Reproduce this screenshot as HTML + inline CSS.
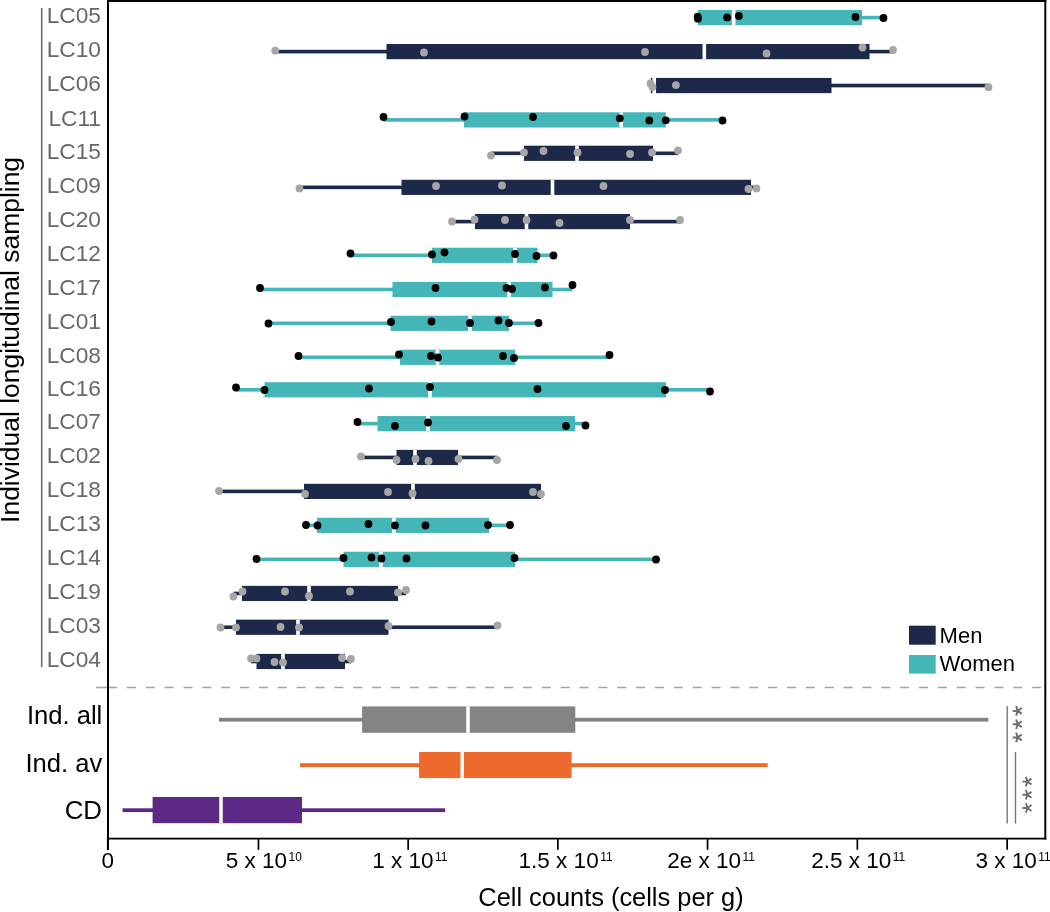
<!DOCTYPE html>
<html><head><meta charset="utf-8"><style>
html,body{margin:0;padding:0;background:#fff;}
svg{display:block;will-change:transform;}
text{font-family:"Liberation Sans",sans-serif;}
</style></head><body>
<svg width="1050" height="912" viewBox="0 0 1050 912">
<rect width="1050" height="912" fill="#fff"/>

<rect x="698" y="15.8" width="185.5" height="3.6" fill="#44b6b8"/>
<rect x="698" y="10" width="164" height="15.2" fill="#44b6b8"/>
<rect x="731.9" y="10" width="3.6" height="15.2" fill="#fff"/>
<circle cx="697.7" cy="16.6" r="3.9" fill="#000"/>
<circle cx="697.9" cy="18.7" r="3.9" fill="#000"/>
<circle cx="727.1" cy="17.4" r="3.9" fill="#000"/>
<circle cx="738.9" cy="16" r="3.9" fill="#000"/>
<circle cx="855.5" cy="17" r="3.9" fill="#000"/>
<circle cx="883.5" cy="18" r="3.9" fill="#000"/>
<text x="101" y="23.3" font-size="22.7" fill="#686868" text-anchor="end">LC05</text>
<rect x="275.2" y="49.8" width="617.8" height="3.6" fill="#1d2948"/>
<rect x="386.5" y="44" width="483" height="15.2" fill="#1d2948"/>
<rect x="702.5" y="44" width="3.6" height="15.2" fill="#fff"/>
<circle cx="275.2" cy="50.7" r="3.9" fill="#a6a6a6"/>
<circle cx="424" cy="52.5" r="3.9" fill="#a6a6a6"/>
<circle cx="645" cy="52" r="3.9" fill="#a6a6a6"/>
<circle cx="766.5" cy="53.5" r="3.9" fill="#a6a6a6"/>
<circle cx="862.5" cy="47.5" r="3.9" fill="#a6a6a6"/>
<circle cx="893" cy="50" r="3.9" fill="#a6a6a6"/>
<text x="101" y="57.3" font-size="22.7" fill="#686868" text-anchor="end">LC10</text>
<rect x="656" y="83.75" width="332.5" height="3.6" fill="#1d2948"/>
<rect x="656" y="77.95" width="175.5" height="15.2" fill="#1d2948"/>
<rect x="650.8" y="77.95" width="1.6" height="15.2" fill="#1d2948"/>
<circle cx="650.5" cy="83.5" r="3.9" fill="#a6a6a6"/>
<circle cx="652.5" cy="87" r="3.9" fill="#a6a6a6"/>
<circle cx="675.9" cy="85.1" r="3.9" fill="#a6a6a6"/>
<circle cx="988.5" cy="87.2" r="3.9" fill="#a6a6a6"/>
<text x="101" y="91.25" font-size="22.7" fill="#686868" text-anchor="end">LC06</text>
<rect x="383.5" y="118.1" width="339" height="3.6" fill="#44b6b8"/>
<rect x="464" y="112.3" width="201.8" height="15.2" fill="#44b6b8"/>
<rect x="619.4" y="112.3" width="3.6" height="15.2" fill="#fff"/>
<circle cx="383.5" cy="117" r="3.9" fill="#000"/>
<circle cx="464.5" cy="116.5" r="3.9" fill="#000"/>
<circle cx="533" cy="117" r="3.9" fill="#000"/>
<circle cx="619.8" cy="118.3" r="3.9" fill="#000"/>
<circle cx="649.3" cy="120.4" r="3.9" fill="#000"/>
<circle cx="665.7" cy="120.3" r="3.9" fill="#000"/>
<circle cx="722.5" cy="120.5" r="3.9" fill="#000"/>
<text x="101" y="125.6" font-size="22.7" fill="#686868" text-anchor="end">LC11</text>
<rect x="491" y="151.5" width="187" height="3.6" fill="#1d2948"/>
<rect x="524" y="145.7" width="129" height="15.2" fill="#1d2948"/>
<rect x="575.2" y="145.7" width="3.6" height="15.2" fill="#fff"/>
<circle cx="491" cy="155.5" r="3.9" fill="#a6a6a6"/>
<circle cx="524" cy="152.5" r="3.9" fill="#a6a6a6"/>
<circle cx="543.5" cy="151" r="3.9" fill="#a6a6a6"/>
<circle cx="577.5" cy="152.5" r="3.9" fill="#a6a6a6"/>
<circle cx="630" cy="154" r="3.9" fill="#a6a6a6"/>
<circle cx="652" cy="152.5" r="3.9" fill="#a6a6a6"/>
<circle cx="678" cy="150.5" r="3.9" fill="#a6a6a6"/>
<text x="101" y="159" font-size="22.7" fill="#686868" text-anchor="end">LC15</text>
<rect x="299.5" y="185.55" width="457" height="3.6" fill="#1d2948"/>
<rect x="401.5" y="179.75" width="349.5" height="15.2" fill="#1d2948"/>
<rect x="550.7" y="179.75" width="3.6" height="15.2" fill="#fff"/>
<circle cx="299.5" cy="188.5" r="3.9" fill="#a6a6a6"/>
<circle cx="436" cy="186" r="3.9" fill="#a6a6a6"/>
<circle cx="502" cy="185.5" r="3.9" fill="#a6a6a6"/>
<circle cx="603.5" cy="186" r="3.9" fill="#a6a6a6"/>
<circle cx="748.5" cy="189" r="3.9" fill="#a6a6a6"/>
<circle cx="756.5" cy="188.5" r="3.9" fill="#a6a6a6"/>
<text x="101" y="193.05" font-size="22.7" fill="#686868" text-anchor="end">LC09</text>
<rect x="452" y="219.8" width="228" height="3.6" fill="#1d2948"/>
<rect x="475" y="214" width="155" height="15.2" fill="#1d2948"/>
<rect x="524.7" y="214" width="3.6" height="15.2" fill="#fff"/>
<circle cx="452" cy="221.5" r="3.9" fill="#a6a6a6"/>
<circle cx="474.5" cy="219.5" r="3.9" fill="#a6a6a6"/>
<circle cx="505" cy="220" r="3.9" fill="#a6a6a6"/>
<circle cx="526.5" cy="220" r="3.9" fill="#a6a6a6"/>
<circle cx="559.5" cy="223" r="3.9" fill="#a6a6a6"/>
<circle cx="630" cy="220" r="3.9" fill="#a6a6a6"/>
<circle cx="680" cy="220" r="3.9" fill="#a6a6a6"/>
<text x="101" y="227.3" font-size="22.7" fill="#686868" text-anchor="end">LC20</text>
<rect x="350.5" y="253.5" width="203" height="3.6" fill="#44b6b8"/>
<rect x="432" y="247.7" width="105.5" height="15.2" fill="#44b6b8"/>
<rect x="513.2" y="247.7" width="3.6" height="15.2" fill="#fff"/>
<circle cx="350.5" cy="253.5" r="3.9" fill="#000"/>
<circle cx="432" cy="254.5" r="3.9" fill="#000"/>
<circle cx="444.5" cy="252.5" r="3.9" fill="#000"/>
<circle cx="515" cy="254" r="3.9" fill="#000"/>
<circle cx="536.5" cy="256" r="3.9" fill="#000"/>
<circle cx="553.5" cy="255.5" r="3.9" fill="#000"/>
<text x="101" y="261" font-size="22.7" fill="#686868" text-anchor="end">LC12</text>
<rect x="260" y="287.7" width="312.5" height="3.6" fill="#44b6b8"/>
<rect x="392.5" y="281.9" width="160" height="15.2" fill="#44b6b8"/>
<rect x="507.2" y="281.9" width="3.6" height="15.2" fill="#fff"/>
<circle cx="260" cy="288" r="3.9" fill="#000"/>
<circle cx="435.5" cy="288" r="3.9" fill="#000"/>
<circle cx="506.5" cy="288" r="3.9" fill="#000"/>
<circle cx="512" cy="289" r="3.9" fill="#000"/>
<circle cx="545" cy="287.5" r="3.9" fill="#000"/>
<circle cx="572.5" cy="285" r="3.9" fill="#000"/>
<text x="101" y="295.2" font-size="22.7" fill="#686868" text-anchor="end">LC17</text>
<rect x="268.5" y="321.5" width="270" height="3.6" fill="#44b6b8"/>
<rect x="390.5" y="315.7" width="118.5" height="15.2" fill="#44b6b8"/>
<rect x="468.2" y="315.7" width="3.6" height="15.2" fill="#fff"/>
<circle cx="268.5" cy="323.5" r="3.9" fill="#000"/>
<circle cx="391" cy="322" r="3.9" fill="#000"/>
<circle cx="431.5" cy="321.5" r="3.9" fill="#000"/>
<circle cx="470" cy="323" r="3.9" fill="#000"/>
<circle cx="498.5" cy="320.5" r="3.9" fill="#000"/>
<circle cx="509" cy="323" r="3.9" fill="#000"/>
<circle cx="538.5" cy="323" r="3.9" fill="#000"/>
<text x="101" y="329" font-size="22.7" fill="#686868" text-anchor="end">LC01</text>
<rect x="298.5" y="355.5" width="311" height="3.6" fill="#44b6b8"/>
<rect x="400" y="349.7" width="115" height="15.2" fill="#44b6b8"/>
<rect x="435.7" y="349.7" width="3.6" height="15.2" fill="#fff"/>
<circle cx="298.5" cy="356" r="3.9" fill="#000"/>
<circle cx="399" cy="354.5" r="3.9" fill="#000"/>
<circle cx="431" cy="356" r="3.9" fill="#000"/>
<circle cx="438" cy="357.5" r="3.9" fill="#000"/>
<circle cx="503" cy="356" r="3.9" fill="#000"/>
<circle cx="514" cy="358" r="3.9" fill="#000"/>
<circle cx="609.5" cy="355" r="3.9" fill="#000"/>
<text x="101" y="363" font-size="22.7" fill="#686868" text-anchor="end">LC08</text>
<rect x="236" y="388" width="474" height="3.6" fill="#44b6b8"/>
<rect x="264.5" y="382.2" width="401.5" height="15.2" fill="#44b6b8"/>
<rect x="428.2" y="382.2" width="3.6" height="15.2" fill="#fff"/>
<circle cx="236" cy="387.5" r="3.9" fill="#000"/>
<circle cx="264.5" cy="390" r="3.9" fill="#000"/>
<circle cx="369" cy="388.5" r="3.9" fill="#000"/>
<circle cx="430" cy="387" r="3.9" fill="#000"/>
<circle cx="537.5" cy="389" r="3.9" fill="#000"/>
<circle cx="665" cy="390" r="3.9" fill="#000"/>
<circle cx="710" cy="391.5" r="3.9" fill="#000"/>
<text x="101" y="395.5" font-size="22.7" fill="#686868" text-anchor="end">LC16</text>
<rect x="357.5" y="421.85" width="228" height="3.6" fill="#44b6b8"/>
<rect x="377.5" y="416.05" width="197.5" height="15.2" fill="#44b6b8"/>
<rect x="426.2" y="416.05" width="3.6" height="15.2" fill="#fff"/>
<circle cx="357.5" cy="422" r="3.9" fill="#000"/>
<circle cx="395" cy="426" r="3.9" fill="#000"/>
<circle cx="428" cy="422.5" r="3.9" fill="#000"/>
<circle cx="566" cy="426" r="3.9" fill="#000"/>
<circle cx="585.5" cy="425.5" r="3.9" fill="#000"/>
<text x="101" y="429.35" font-size="22.7" fill="#686868" text-anchor="end">LC07</text>
<rect x="361" y="455.65" width="136" height="3.6" fill="#1d2948"/>
<rect x="396.5" y="449.85" width="61.5" height="15.2" fill="#1d2948"/>
<rect x="413.2" y="449.85" width="3.6" height="15.2" fill="#fff"/>
<circle cx="361" cy="456.5" r="3.9" fill="#a6a6a6"/>
<circle cx="396.5" cy="460" r="3.9" fill="#a6a6a6"/>
<circle cx="415.5" cy="459" r="3.9" fill="#a6a6a6"/>
<circle cx="428.5" cy="461" r="3.9" fill="#a6a6a6"/>
<circle cx="458.5" cy="459" r="3.9" fill="#a6a6a6"/>
<circle cx="497" cy="460" r="3.9" fill="#a6a6a6"/>
<text x="101" y="463.15" font-size="22.7" fill="#686868" text-anchor="end">LC02</text>
<rect x="219" y="489.6" width="322" height="3.6" fill="#1d2948"/>
<rect x="304" y="483.8" width="237" height="15.2" fill="#1d2948"/>
<rect x="411.2" y="483.8" width="3.6" height="15.2" fill="#fff"/>
<circle cx="219" cy="491" r="3.9" fill="#a6a6a6"/>
<circle cx="305" cy="494" r="3.9" fill="#a6a6a6"/>
<circle cx="388" cy="492" r="3.9" fill="#a6a6a6"/>
<circle cx="412.5" cy="493.5" r="3.9" fill="#a6a6a6"/>
<circle cx="533" cy="492" r="3.9" fill="#a6a6a6"/>
<circle cx="541" cy="494" r="3.9" fill="#a6a6a6"/>
<text x="101" y="497.1" font-size="22.7" fill="#686868" text-anchor="end">LC18</text>
<rect x="306" y="523.55" width="204" height="3.6" fill="#44b6b8"/>
<rect x="317" y="517.75" width="172" height="15.2" fill="#44b6b8"/>
<rect x="392.2" y="517.75" width="3.6" height="15.2" fill="#fff"/>
<circle cx="306" cy="525" r="3.9" fill="#000"/>
<circle cx="317.5" cy="525.5" r="3.9" fill="#000"/>
<circle cx="368.5" cy="524" r="3.9" fill="#000"/>
<circle cx="395" cy="525.5" r="3.9" fill="#000"/>
<circle cx="425.5" cy="525.5" r="3.9" fill="#000"/>
<circle cx="488" cy="525" r="3.9" fill="#000"/>
<circle cx="510" cy="525" r="3.9" fill="#000"/>
<text x="101" y="531.05" font-size="22.7" fill="#686868" text-anchor="end">LC13</text>
<rect x="256.5" y="557.55" width="399.5" height="3.6" fill="#44b6b8"/>
<rect x="343.5" y="551.75" width="171.5" height="15.2" fill="#44b6b8"/>
<rect x="379.2" y="551.75" width="3.6" height="15.2" fill="#fff"/>
<circle cx="256.5" cy="559" r="3.9" fill="#000"/>
<circle cx="343.5" cy="558" r="3.9" fill="#000"/>
<circle cx="371.5" cy="557.5" r="3.9" fill="#000"/>
<circle cx="381.5" cy="558.5" r="3.9" fill="#000"/>
<circle cx="406.5" cy="558.5" r="3.9" fill="#000"/>
<circle cx="514.5" cy="558" r="3.9" fill="#000"/>
<circle cx="656" cy="559.5" r="3.9" fill="#000"/>
<text x="101" y="565.05" font-size="22.7" fill="#686868" text-anchor="end">LC14</text>
<rect x="233.5" y="591.65" width="172.5" height="3.6" fill="#1d2948"/>
<rect x="242" y="585.85" width="156" height="15.2" fill="#1d2948"/>
<rect x="307.2" y="585.85" width="3.6" height="15.2" fill="#fff"/>
<circle cx="233.5" cy="596.5" r="3.9" fill="#a6a6a6"/>
<circle cx="242.5" cy="591.5" r="3.9" fill="#a6a6a6"/>
<circle cx="285" cy="591.5" r="3.9" fill="#a6a6a6"/>
<circle cx="309" cy="596" r="3.9" fill="#a6a6a6"/>
<circle cx="350" cy="591.5" r="3.9" fill="#a6a6a6"/>
<circle cx="398" cy="592.5" r="3.9" fill="#a6a6a6"/>
<circle cx="406" cy="590" r="3.9" fill="#a6a6a6"/>
<text x="101" y="599.15" font-size="22.7" fill="#686868" text-anchor="end">LC19</text>
<rect x="220.5" y="625.45" width="277" height="3.6" fill="#1d2948"/>
<rect x="236" y="619.65" width="152.5" height="15.2" fill="#1d2948"/>
<rect x="296.2" y="619.65" width="3.6" height="15.2" fill="#fff"/>
<circle cx="220.5" cy="627.5" r="3.9" fill="#a6a6a6"/>
<circle cx="236" cy="627.5" r="3.9" fill="#a6a6a6"/>
<circle cx="280.5" cy="627" r="3.9" fill="#a6a6a6"/>
<circle cx="299" cy="627.5" r="3.9" fill="#a6a6a6"/>
<circle cx="388.5" cy="626" r="3.9" fill="#a6a6a6"/>
<circle cx="497.5" cy="625.5" r="3.9" fill="#a6a6a6"/>
<text x="101" y="632.95" font-size="22.7" fill="#686868" text-anchor="end">LC03</text>
<rect x="251" y="659.7" width="100" height="3.6" fill="#1d2948"/>
<rect x="256.5" y="653.9" width="88.5" height="15.2" fill="#1d2948"/>
<rect x="281.2" y="653.9" width="3.6" height="15.2" fill="#fff"/>
<circle cx="251" cy="658.5" r="3.9" fill="#a6a6a6"/>
<circle cx="256.5" cy="658.5" r="3.9" fill="#a6a6a6"/>
<circle cx="274.5" cy="662" r="3.9" fill="#a6a6a6"/>
<circle cx="283" cy="662.5" r="3.9" fill="#a6a6a6"/>
<circle cx="342" cy="658" r="3.9" fill="#a6a6a6"/>
<circle cx="351" cy="659" r="3.9" fill="#a6a6a6"/>
<text x="101" y="667.2" font-size="22.7" fill="#686868" text-anchor="end">LC04</text>
<rect x="40.9" y="8" width="1.6" height="659" fill="#6e6e6e"/>
<line x1="96" y1="687.5" x2="117" y2="687.5" stroke="#a3a3a3" stroke-width="1.6"/>
<line x1="126.9" y1="687.5" x2="1041" y2="687.5" stroke="#a3a3a3" stroke-width="1.6" stroke-dasharray="9 9.86"/>
<rect x="219" y="717.8" width="769.3" height="3.8" fill="#848484"/>
<rect x="362.1" y="706.4" width="213.2" height="26.4" fill="#848484"/>
<rect x="466.25" y="706.4" width="3.5" height="26.4" fill="#fff"/>
<rect x="300" y="763.2" width="467.7" height="3.8" fill="#ec6a2b"/>
<rect x="419.1" y="752" width="152.5" height="26.1" fill="#ec6a2b"/>
<rect x="460.45" y="752" width="3.5" height="26.1" fill="#fff"/>
<rect x="122.6" y="808.3" width="322.6" height="3.8" fill="#5c2a84"/>
<rect x="152.6" y="797" width="149.4" height="26.2" fill="#5c2a84"/>
<rect x="219.25" y="797" width="3.5" height="26.2" fill="#fff"/>
<text x="102.3" y="723.7" font-size="25.6" fill="#000" text-anchor="end">Ind. all</text>
<text x="102.3" y="771.8" font-size="25.6" fill="#000" text-anchor="end">Ind. av</text>
<text x="102" y="819.2" font-size="25.8" fill="#000" text-anchor="end">CD</text>
<rect x="1006.5" y="706" width="1.4" height="117.5" fill="#777"/>
<rect x="1014.8" y="752" width="1.4" height="71.5" fill="#777"/>
<path d="M1017.7 710.9L1012.7 710.9M1017.7 710.9L1016.15 706.14M1017.7 710.9L1021.75 707.96M1017.7 710.9L1021.75 713.84M1017.7 710.9L1016.15 715.66" stroke="#6f6f6f" stroke-width="1.95" stroke-linecap="butt" fill="none"/>
<path d="M1017.7 724.2L1012.7 724.2M1017.7 724.2L1016.15 719.44M1017.7 724.2L1021.75 721.26M1017.7 724.2L1021.75 727.14M1017.7 724.2L1016.15 728.96" stroke="#6f6f6f" stroke-width="1.95" stroke-linecap="butt" fill="none"/>
<path d="M1017.7 737.4L1012.7 737.4M1017.7 737.4L1016.15 732.64M1017.7 737.4L1021.75 734.46M1017.7 737.4L1021.75 740.34M1017.7 737.4L1016.15 742.16" stroke="#6f6f6f" stroke-width="1.95" stroke-linecap="butt" fill="none"/>
<path d="M1027.4 781.6L1022.4 781.6M1027.4 781.6L1025.85 776.84M1027.4 781.6L1031.45 778.66M1027.4 781.6L1031.45 784.54M1027.4 781.6L1025.85 786.36" stroke="#6f6f6f" stroke-width="1.95" stroke-linecap="butt" fill="none"/>
<path d="M1027.4 794.8L1022.4 794.8M1027.4 794.8L1025.85 790.04M1027.4 794.8L1031.45 791.86M1027.4 794.8L1031.45 797.74M1027.4 794.8L1025.85 799.56" stroke="#6f6f6f" stroke-width="1.95" stroke-linecap="butt" fill="none"/>
<path d="M1027.4 808L1022.4 808M1027.4 808L1025.85 803.24M1027.4 808L1031.45 805.06M1027.4 808L1031.45 810.94M1027.4 808L1025.85 812.76" stroke="#6f6f6f" stroke-width="1.95" stroke-linecap="butt" fill="none"/>
<rect x="909" y="625.7" width="26.7" height="19" fill="#1d2948"/>
<rect x="909" y="655" width="26.7" height="18.6" fill="#44b6b8"/>
<text x="939.6" y="642.9" font-size="22" fill="#000">Men</text>
<text x="939.6" y="670.7" font-size="22" fill="#000">Women</text>
<rect x="107" y="0" width="939.3" height="2" fill="#000"/>
<rect x="107" y="0" width="2" height="850" fill="#000"/>
<rect x="1044.3" y="0" width="2" height="839.5" fill="#000"/>
<rect x="107" y="837.7" width="939.3" height="1.8" fill="#000"/>
<rect x="106.9" y="838" width="1.7" height="11.8" fill="#000"/>
<rect x="257.6" y="838" width="1.7" height="11.8" fill="#000"/>
<rect x="407.3" y="838" width="1.7" height="11.8" fill="#000"/>
<rect x="557" y="838" width="1.7" height="11.8" fill="#000"/>
<rect x="706.7" y="838" width="1.7" height="11.8" fill="#000"/>
<rect x="856.5" y="838" width="1.7" height="11.8" fill="#000"/>
<rect x="1006.3" y="838" width="1.7" height="11.8" fill="#000"/>
<text x="107.7" y="868.4" font-size="22.5" text-anchor="middle" fill="#000">0</text>
<text x="225.8" y="868.2" font-size="22.5" fill="#000">5 x 10<tspan font-size="12" dx="1.5" dy="-7.4">10</tspan></text>
<text x="372.2" y="868.2" font-size="22.5" fill="#000">1 x 10<tspan font-size="12" dx="1.5" dy="-7.4">11</tspan></text>
<text x="518.6" y="868.2" font-size="22.5" fill="#000">1.5 x 10<tspan font-size="12" dx="1.5" dy="-7.4">11</tspan></text>
<text x="667.2" y="868.2" font-size="22.5" fill="#000">2e x 10<tspan font-size="12" dx="1.5" dy="-7.4">11</tspan></text>
<text x="811.2" y="868.2" font-size="22.5" fill="#000">2.5 x 10<tspan font-size="12" dx="1.5" dy="-7.4">11</tspan></text>
<text x="975.4" y="868.2" font-size="22.5" fill="#000">3 x 10<tspan font-size="12" dx="1.5" dy="-7.4">11</tspan></text>
<text x="478.3" y="906" font-size="25.4" fill="#000">Cell counts (cells per g)</text>
<text transform="translate(18.9,522.9) rotate(-90)" x="0" y="0" font-size="26.45" fill="#000">Individual longitudinal sampling</text>
</svg></body></html>
